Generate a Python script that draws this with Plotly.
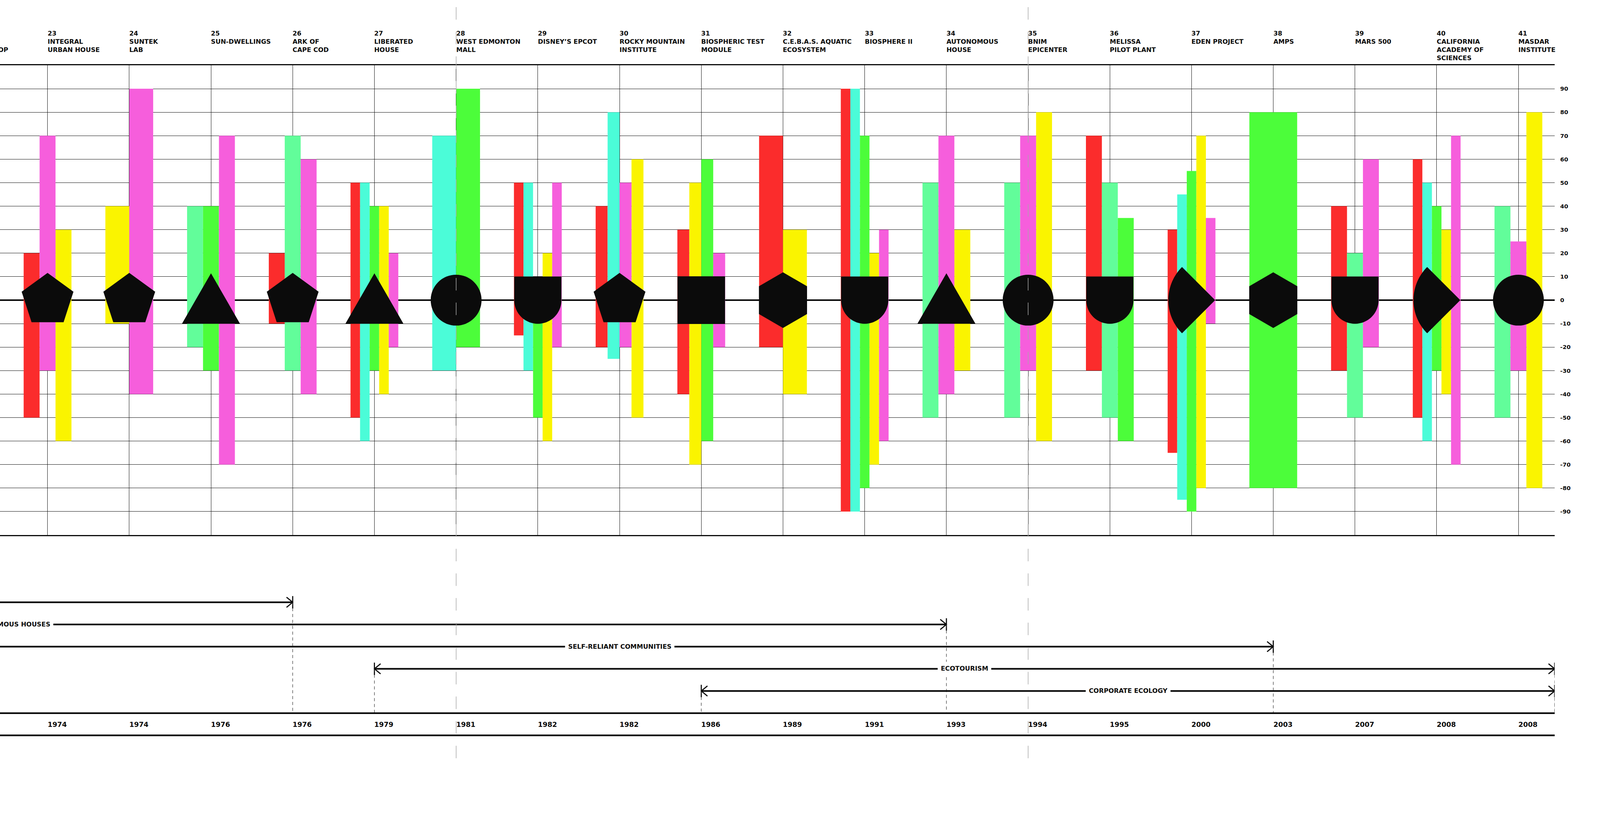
import numpy as np
import plotly.graph_objects as go

# columns shown in the strip (project number, name, year, glyph)
COLUMNS = list(range(23, 42))
NAMES = [
    "INTEGRAL<br>URBAN HOUSE", "SUNTEK<br>LAB", "SUN-DWELLINGS", "ARK OF<br>CAPE COD",
    "LIBERATED<br>HOUSE", "WEST EDMONTON<br>MALL", "DISNEY’S EPCOT", "ROCKY MOUNTAIN<br>INSTITUTE",
    "BIOSPHERIC TEST<br>MODULE", "C.E.B.A.S. AQUATIC<br>ECOSYSTEM", "BIOSPHERE II", "AUTONOMOUS<br>HOUSE",
    "BNIM<br>EPICENTER", "MELISSA<br>PILOT PLANT", "EDEN PROJECT", "AMPS", "MARS 500",
    "CALIFORNIA<br>ACADEMY OF<br>SCIENCES", "MASDAR<br>INSTITUTE",
]
YEARS = [1974, 1974, 1976, 1976, 1979, 1981, 1982, 1982, 1986, 1989, 1991, 1993,
         1994, 1995, 2000, 2003, 2007, 2008, 2008]
GLYPHS = ["pentagon", "pentagon", "triangle", "pentagon", "triangle", "circle", "cup",
          "pentagon", "square", "hexagon", "cup", "triangle", "circle", "cup", "wedge",
          "hexagon", "cup", "wedge", "circle"]

# project cut off at the left edge of the strip
LEAD_COLUMN = 22
LEAD_NAME = "SOLAR<br>WORKSHOP"

# left-to-right order of the bars in each column
# R red, C cyan, M mint, G green, Y yellow, P pink
BAR_ORDER = ["RPY", "YP", "MGP", "RMP", "RCGYP", "CG", "RCGYP", "RCPY", "RYGP", "RY",
             "RCGYP", "MPY", "MPY", "RMG", "RCGYP", "G", "RMP", "RCGYP", "MPY"]

RED_HI = [20, None, None, 20, 50, None, 50, 40, 30, 70, 90, None, None, 70, 30, None, 40, 60, None]
RED_LO = [-50, None, None, -10, -50, None, -15, -20, -40, -20, -90, None, None, -30, -65, None, -30, -50, None]
CYAN_HI = [None, None, None, None, 50, 70, 50, 80, None, None, 90, None, None, None, 45, None, None, 50, None]
CYAN_LO = [None, None, None, None, -60, -30, -30, -25, None, None, -90, None, None, None, -85, None, None, -60, None]
MINT_HI = [None, None, 40, 70, None, None, None, None, None, None, None, 50, 50, 50, None, None, 20, None, 40]
MINT_LO = [None, None, -20, -30, None, None, None, None, None, None, None, -50, -50, -50, None, None, -50, None, -50]
GREEN_HI = [None, None, 40, None, 40, 90, 10, None, 60, None, 70, None, None, 35, 55, 80, None, 40, None]
GREEN_LO = [None, None, -30, None, -30, -20, -50, None, -60, None, -80, None, None, -60, -90, -80, None, -30, None]
YELLOW_HI = [30, 40, None, None, 40, None, 20, 60, 50, 30, 20, 30, 80, None, 70, None, None, 30, 80]
YELLOW_LO = [-60, -10, None, None, -40, None, -60, -50, -70, -40, -70, -30, -60, None, -80, None, None, -40, -80]
PINK_HI = [70, 90, 70, 60, 20, None, 50, 50, 20, None, 30, 70, 70, None, 35, None, 60, 70, 25]
PINK_LO = [-30, -40, -70, -40, -20, None, -20, -20, -20, None, -60, -40, -30, None, -10, None, -20, -70, -30]

Y_TICKS = list(range(-90, 100, 10))

# timeline of movements (None = still running at the right edge)
TIMELINE_LABELS = ["", "AUTONOMOUS HOUSES", "SELF-RELIANT COMMUNITIES", "ECOTOURISM", "CORPORATE ECOLOGY"]
TIMELINE_START = [12, 11.05, 22, 27, 31]
TIMELINE_END = [26, 34, 38, None, None]

ERA_COLUMNS = [28, 35]

# ---- look ----
INK = "#0b0b0b"
SERIES = {
    "R": ("#fb2c2c", RED_HI, RED_LO),
    "C": ("#4bfcd8", CYAN_HI, CYAN_LO),
    "M": ("#62fd9a", MINT_HI, MINT_LO),
    "G": ("#4cfd3a", GREEN_HI, GREEN_LO),
    "Y": ("#faf400", YELLOW_HI, YELLOW_LO),
    "P": ("#f65edc", PINK_HI, PINK_LO),
}
FONT = "DejaVu Sans"

# the page is photographed at a device scale of about 4405/4096,
# so sizes below are given in picture pixels and converted to css pixels
DPR = 4405 / 4096


def css(v):
    return v / DPR


W, H = 4405, 2111
PLOT_R, PLOT_T, PLOT_B = 4280, 180, 1472
X_LO, X_HI = 22.418, 41.444
GROUP_W = 0.585
MARKER_SIZE = {"pentagon": 150, "circle": 140, "square": 131, "hexagon": 153}

ROW_Y = [1657, 1718, 1779, 1840, 1901]
BASE_Y, YEAR_Y, FOOT_Y = 1962, 1993, 2023
HEAD_Y = 80
LABEL_SIZE, YEAR_SIZE, TICK_SIZE = 17.5, 19, 16


def paper_x(v):
    return (v - X_LO) / (X_HI - X_LO)


def paper_y(py):
    return (PLOT_B - py) / (PLOT_B - PLOT_T)


def outline(kind):
    """Glyph outline in picture pixels around its centre (y up)."""
    if kind == "triangle":
        pts = [(0, 74), (80, -65), (-80, -65)]
    elif kind == "cup":
        t = np.linspace(0, -np.pi, 48)
        pts = [(-65, 65), (65, 65)] + list(zip(65 * np.cos(t), 65 * np.sin(t)))
    else:  # wedge: quarter disc pointing right
        t = np.radians(np.linspace(135, 225, 48))
        pts = [(65, 0)] + list(zip(65 + 129 * np.cos(t), 129 * np.sin(t)))
    return "M" + " L".join(f"{css(x):.2f},{css(y):.2f}" for x, y in pts) + " Z"


fig = go.Figure()

# bars: each column splits the same group width among its bars
for code, (color, hi, lo) in SERIES.items():
    xs, base, size, offs, widths = [], [], [], [], []
    for i, col in enumerate(COLUMNS):
        order = BAR_ORDER[i]
        if code not in order:
            continue
        w = GROUP_W / len(order)
        xs.append(col)
        base.append(lo[i])
        size.append(hi[i] - lo[i])
        offs.append(-GROUP_W / 2 + order.index(code) * w)
        widths.append(w)
    fig.add_trace(go.Bar(x=xs, y=size, base=base, offset=offs, width=widths,
                         marker=dict(color=color, line_width=0), hoverinfo="skip"))

# standard glyphs as markers
std = [(c, g) for c, g in zip(COLUMNS, GLYPHS) if g in MARKER_SIZE]
fig.add_trace(go.Scatter(
    x=[c for c, g in std], y=[0] * len(std), mode="markers", hoverinfo="skip",
    marker=dict(symbol=[g for c, g in std], size=[css(MARKER_SIZE[g]) for c, g in std],
                color=INK, opacity=1, line_width=0),
))

shapes = []
for c, g in zip(COLUMNS, GLYPHS):
    if g in MARKER_SIZE:
        continue
    shapes.append(dict(type="path", xref="x", yref="y", xsizemode="pixel", ysizemode="pixel",
                       xanchor=c, yanchor=0, path=outline(g), fillcolor=INK,
                       line=dict(width=0), layer="above"))

# timeline
annotations = []
for r, (lab, x0, x1) in enumerate(zip(TIMELINE_LABELS, TIMELINE_START, TIMELINE_END)):
    yy = paper_y(ROW_Y[r])
    end = X_HI if x1 is None else x1
    shapes.append(dict(type="line", xref="x", yref="paper", x0=x0, x1=end, y0=yy, y1=yy,
                       line=dict(color=INK, width=css(4.5)), layer="above"))
    for xv, d in ((x0, -1), (end, 1)):
        b, a, s = css(17), css(17), css(14)
        head = f"M0,{b:.2f} L0,{-b:.2f} M{-a * d:.2f},{s:.2f} L0,0 L{-a * d:.2f},{-s:.2f}"
        shapes.append(dict(type="path", xref="x", yref="paper", xsizemode="pixel",
                           ysizemode="pixel", xanchor=xv, yanchor=yy, path=head,
                           line=dict(color=INK, width=css(3)), layer="above"))
        if X_LO < xv <= X_HI:
            shapes.append(dict(type="line", xref="x", yref="paper", x0=xv, x1=xv,
                               y0=yy, y1=paper_y(BASE_Y),
                               line=dict(color="#333333", width=css(1.3), dash="8px,7px"),
                               layer="above"))
    if lab:
        annotations.append(dict(text=lab, xref="paper", yref="paper",
                                x=paper_x((x0 + end) / 2), y=yy, showarrow=False,
                                xanchor="center", yanchor="middle", bgcolor="white",
                                borderpad=css(8),
                                font=dict(size=css(LABEL_SIZE), weight=700, color=INK)))

for py in (BASE_Y, FOOT_Y):
    shapes.append(dict(type="line", xref="paper", yref="paper", x0=0, x1=1,
                       y0=paper_y(py), y1=paper_y(py), line=dict(color=INK, width=css(4.5))))

for c in ERA_COLUMNS:
    shapes.append(dict(type="line", xref="x", yref="paper", x0=c, x1=c,
                       y0=paper_y(20), y1=paper_y(H),
                       line=dict(color="#a8a8a8", width=css(1.6), dash="32px,31px"),
                       layer="above"))

# column headers and years
for c, name in zip([LEAD_COLUMN] + COLUMNS, [LEAD_NAME] + NAMES):
    annotations.append(dict(text=f"{c}<br>{name}", xref="paper", yref="paper",
                            x=paper_x(c), y=paper_y(HEAD_Y), xshift=-2, showarrow=False,
                            xanchor="left", yanchor="top", align="left",
                            font=dict(size=css(LABEL_SIZE), weight=700, color=INK)))
for c, yr in zip(COLUMNS, YEARS):
    annotations.append(dict(text=str(yr), xref="paper", yref="paper", x=paper_x(c),
                            y=paper_y(YEAR_Y), xshift=-2, showarrow=False,
                            xanchor="left", yanchor="middle",
                            font=dict(size=css(YEAR_SIZE), weight=700, color=INK)))

fig.update_layout(
    width=round(css(W)), height=round(css(H)), autosize=False,
    margin=dict(l=0, r=css(W - PLOT_R), t=css(PLOT_T), b=css(H - PLOT_B), pad=0),
    paper_bgcolor="white", plot_bgcolor="white",
    barmode="overlay", showlegend=False,
    font=dict(family=FONT, color=INK),
    shapes=shapes, annotations=annotations,
    xaxis=dict(range=[X_LO, X_HI], tickmode="linear", tick0=0, dtick=1,
               showticklabels=False, showgrid=True, gridcolor="#111111", gridwidth=1,
               zeroline=False, showline=True, mirror=True, linecolor=INK,
               linewidth=css(3.5), fixedrange=True),
    yaxis=dict(range=[-100, 100], tickmode="array", tickvals=Y_TICKS,
               ticktext=[str(v) for v in Y_TICKS], side="right", ticks="",
               showgrid=True, gridcolor="#111111", gridwidth=1.2,
               zeroline=True, zerolinecolor=INK, zerolinewidth=css(4), showline=False,
               ticklabelstandoff=13,
               tickfont=dict(size=css(TICK_SIZE), weight=700, color=INK),
               fixedrange=True),
)

fig.write_html("out.html", config={"displayModeBar": False},
               post_script="document.body.style.margin='0';")
